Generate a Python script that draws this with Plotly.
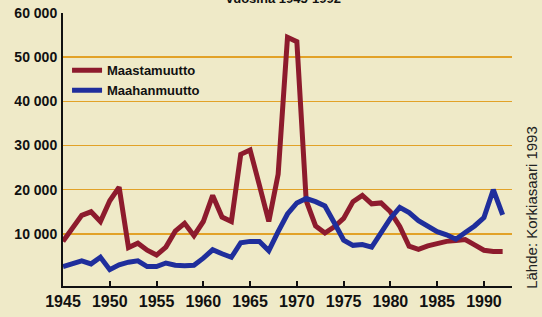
import plotly.graph_objects as go

years = list(range(1945, 1993))

maastamuutto = [
    8.3, 11.5, 14.2, 15.0, 12.8, 17.5, 20.6, 6.9, 7.9, 6.3,
    5.2, 7.0, 10.6, 12.4, 9.6, 12.8, 18.7, 13.8, 12.8, 28.0,
    29.0, 21.0, 12.8, 23.5, 54.5, 53.5, 17.5, 11.8, 10.2, 11.6,
    13.5, 17.3, 18.7, 16.8, 17.0, 15.0, 11.7, 7.2, 6.5, 7.3,
    7.9, 8.3, 8.5, 8.7, 7.5, 6.3, 6.0, 6.0,
]
maahanmuutto = [
    2.6, 3.3, 3.9, 3.2, 4.7, 1.9, 3.0, 3.6, 3.9, 2.6,
    2.6, 3.4, 2.9, 2.8, 2.9, 4.5, 6.4, 5.5, 4.7, 8.0,
    8.3, 8.3, 6.2, 10.5, 14.5, 17.0, 18.0, 17.3, 16.3, 12.5,
    8.6, 7.4, 7.6, 7.0, 10.5, 13.5, 16.0, 14.8, 13.0, 11.8,
    10.5, 9.8, 8.8, 10.3, 11.8, 13.7, 20.0, 14.3,
]

series_names = ["Maastamuutto", "Maahanmuutto"]
y_tick_values = [10000, 20000, 30000, 40000, 50000, 60000]
y_tick_labels = ["10 000", "20 000", "30 000", "40 000", "50 000", "60 000"]
x_tick_values = [1945, 1950, 1955, 1960, 1965, 1970, 1975, 1980, 1985, 1990]
x_tick_labels = [str(v) for v in x_tick_values]
title_text = "vuosina 1945-1992"
source_text = "Lähde: Korkiasaari 1993"

BOLD = "Liberation Sans, Arial, sans-serif"
RED = "#8D1B2D"
BLUE = "#1F2E9C"
BG = "#EFEAC8"
GRID = "#E2A228"

fig = go.Figure()
fig.add_trace(go.Scatter(
    x=years, y=[v * 1000 for v in maastamuutto], mode="lines",
    name=series_names[0], line=dict(color=RED, width=5),
))
fig.add_trace(go.Scatter(
    x=years, y=[v * 1000 for v in maahanmuutto], mode="lines",
    name=series_names[1], line=dict(color=BLUE, width=5),
))

fig.update_layout(
    width=542, height=317,
    margin=dict(l=63, r=30, t=13, b=31, autoexpand=False),
    paper_bgcolor=BG, plot_bgcolor=BG,
    showlegend=True,
    legend=dict(
        x=0.009, y=0.845, xanchor="left", yanchor="top",
        bgcolor="rgba(0,0,0,0)",
        font=dict(family=BOLD, size=13, color="#111111", weight="bold"),
        itemwidth=30, tracegroupgap=0,
    ),
    xaxis=dict(
        range=[1945, 1993], tickvals=x_tick_values, ticktext=x_tick_labels,
        tickangle=0, automargin=False,
        showgrid=False, zeroline=False,
        showline=True, linecolor="#111111", linewidth=2,
        ticks="inside", ticklen=5, tickwidth=2, tickcolor="#111111",
        tickfont=dict(family=BOLD, size=16, color="#111111", weight="bold"),
        fixedrange=True,
    ),
    yaxis=dict(
        range=[-1800, 60000], tickvals=y_tick_values, ticktext=y_tick_labels,
        automargin=False,
        showgrid=True, gridcolor=GRID, gridwidth=1.5,
        zeroline=False,
        showline=True, linecolor="#111111", linewidth=2,
        ticks="", ticklabelstandoff=1,
        tickfont=dict(family=BOLD, size=14, color="#111111", weight="bold"),
        fixedrange=True,
    ),
    annotations=[
        dict(text=source_text, textangle=-90, x=1.0445, y=0.29,
             xref="paper", yref="paper", xanchor="center", yanchor="middle",
             showarrow=False,
             font=dict(family="Liberation Sans, Arial, sans-serif", size=15, color="#222222")),
        dict(text=title_text, x=0.49, y=1.0, xref="paper", yref="paper",
             xanchor="center", yanchor="bottom", yshift=5, showarrow=False,
             font=dict(family=BOLD, size=13, color="#111111", weight="bold")),
    ],
)

page_fix = (
    "document.documentElement.style.margin='0';"
    "document.body.style.margin='0';"
    "document.body.style.overflow='hidden';"
    f"document.body.style.background='{BG}';"
)

fig.write_html("out.html", post_script=page_fix,
               config={"displayModeBar": False, "staticPlot": True})
